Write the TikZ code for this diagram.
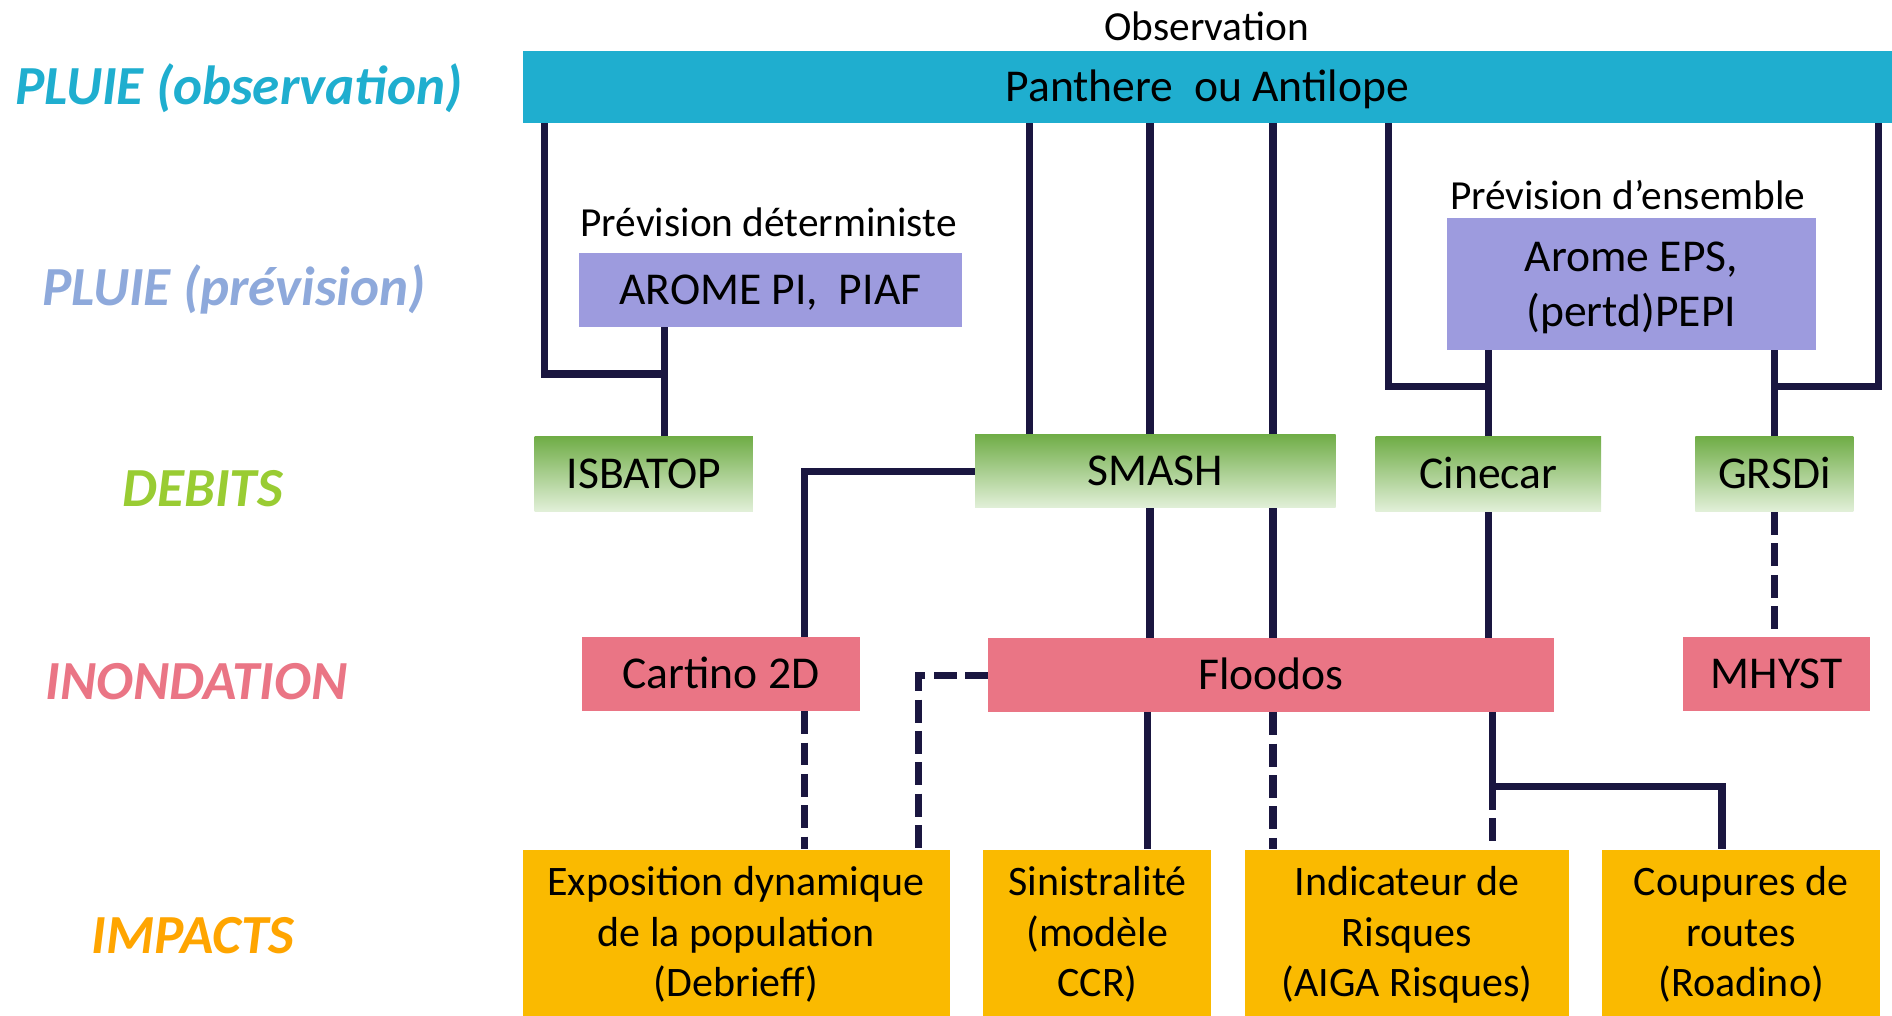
\documentclass[tikz,border=0pt]{standalone}
\usepackage{fontspec}
\setmainfont{Carlito}
\usepackage{xcolor}
\usetikzlibrary{calc}

\definecolor{obsblue}{RGB}{31,174,207}
\definecolor{prevlabel}{RGB}{142,169,219}
\definecolor{prevfill}{RGB}{157,155,222}
\definecolor{debitgreen}{RGB}{153,204,51}
\definecolor{greentop}{RGB}{112,173,71}
\definecolor{greenbot}{RGB}{226,240,217}
\definecolor{inonpink}{RGB}{234,117,133}
\definecolor{impactorange}{RGB}{255,165,0}
\definecolor{impactfill}{RGB}{250,186,0}
\definecolor{linknavy}{RGB}{26,22,64}

\begin{document}
\begin{tikzpicture}[x=0.02cm, y=-0.02cm,
  box/.style={inner sep=0pt, align=center, text=black, font=\fontsize{21.5}{26.2}\selectfont,
    text height=13.8pt, text depth=0pt},
  obsbox/.style={box, fill=obsblue},
  prevbox/.style={box, fill=prevfill},
  debitbox/.style={box, top color=greentop, bottom color=greenbot},
  inonbox/.style={box, fill=inonpink},
  impbox/.style={box, fill=impactfill, minimum height=2.76cm, font=\fontsize{19.8}{23.9}\selectfont,
    text height=60.6pt},
  level/.style={font=\fontsize{26}{30}\selectfont\bfseries\itshape},
  note/.style={font=\fontsize{19.5}{23}\selectfont},
  link/.style={draw=linknavy, line width=0.12cm},
  dlink/.style={link, dash pattern=on 0.38cm off 0.14cm}]
  \useasboundingbox (0,0) rectangle (1568,842);

  % level labels
  \node[level, text=obsblue] (lobs) at (198,73) {PLUIE (observation)};
  \node[level, text=prevlabel] (lprev) at (194,240) {PLUIE (prévision)};
  \node[level, text=debitgreen] (ldeb) at (168,405) {DEBITS};
  \node[level, text=inonpink] (linon) at (163,565) {INONDATION};
  \node[level, text=impactorange] (limp) at (160,775) {IMPACTS};

  % rain
  \node[obsbox, minimum width=22.7cm, minimum height=1.2cm] (panthere) at (1000.5,72) {Panthere~ ou Antilope};
  \node[note] (tobs) at (1000,22) {Observation};
  \node[note] (tdet) at (637,184) {Prévision déterministe};
  \node[note] (tens) at (1349,162) {Prévision d’ensemble};
  \node[prevbox, minimum width=6.34cm, minimum height=1.22cm] (aromepi) at (638.5,240.5) {AROME PI,~ PIAF};
  \node[prevbox, minimum width=6.12cm, minimum height=2.18cm, text height=40pt] (aromeeps) at (1352,235.5) {Arome EPS,\\(pertd)PEPI};

  % flows
  \node[debitbox, minimum width=3.62cm, minimum height=1.24cm] (isbatop) at (533.5,393) {ISBATOP};
  \node[debitbox, minimum width=5.98cm, minimum height=1.22cm] (smash) at (957.5,390.5) {SMASH};
  \node[debitbox, minimum width=3.74cm, minimum height=1.24cm] (cinecar) at (1233.5,393) {Cinecar};
  \node[debitbox, minimum width=2.62cm, minimum height=1.24cm] (grsdi) at (1470.5,393) {GRSDi};

  % flooding
  \node[inonbox, minimum width=4.62cm, minimum height=1.22cm] (cartino) at (597.5,558.5) {Cartino 2D};
  \node[inonbox, minimum width=9.38cm, minimum height=1.22cm] (floodos) at (1053.5,559.5) {Floodos};
  \node[inonbox, minimum width=3.1cm, minimum height=1.22cm] (mhyst) at (1472.5,558.5) {MHYST};

  % impacts
  \node[impbox, minimum width=7.08cm] (expo) at (610,773) {Exposition dynamique\\de la population\\(Debrieff)};
  \node[impbox, minimum width=3.78cm] (sinis) at (909.5,773) {Sinistralité\\(modèle\\CCR)};
  \node[impbox, minimum width=5.36cm] (indic) at (1166,773) {Indicateur de\\Risques\\(AIGA Risques)};
  \node[impbox, minimum width=4.6cm] (coupures) at (1443,773) {Coupures de\\routes\\(Roadino)};

  \coordinate (jisba) at (551,310);
  \coordinate (jcine) at (cinecar.north |- 0,320);
  \coordinate (jgrsd) at (grsdi.north |- 0,320);
  \coordinate (jroad) at (1237,652);

  % links
  \draw[link] (451,0 |- panthere.south) |- (jisba);
  \draw[link] (aromepi.south -| jisba) -- (isbatop.north -| jisba);
  \draw[link] (853,0 |- panthere.south) -- (853,0 |- smash.north);
  \draw[link] (953,0 |- panthere.south) -- (953,0 |- smash.north);
  \draw[link] (1055,0 |- panthere.south) -- (1055,0 |- smash.north);
  \draw[link] (1151,0 |- panthere.south) |- (jcine);
  \draw[link] (aromeeps.south -| cinecar) -- (cinecar.north);
  \draw[link] (1557,0 |- panthere.south) |- (jgrsd);
  \draw[link] (aromeeps.south -| grsdi) -- (grsdi.north);

  \draw[link] (smash.west) -| (667,0 |- cartino.north);
  \draw[link] (953,0 |- smash.south) -- (953,0 |- floodos.north);
  \draw[link] (1055,0 |- smash.south) -- (1055,0 |- floodos.north);
  \draw[link] (cinecar.south) -- (cinecar.south |- floodos.north);
  \draw[dlink] (grsdi.south) -- (grsdi.south |- mhyst.north);

  \draw[dlink] (667,0 |- cartino.south) -- (667,0 |- expo.north);
  \draw[dlink] (floodos.west) -| (761,0 |- expo.north);
  \draw[link] (951,0 |- floodos.south) -- (951,0 |- sinis.north);
  \draw[dlink] (1055,0 |- floodos.south) -- (1055,0 |- indic.north);
  \draw[link] (1237,0 |- floodos.south) -- (jroad) -| (1427,0 |- coupures.north);
  \draw[dlink] (jroad) -- (indic.north -| jroad);
\end{tikzpicture}
\end{document}
